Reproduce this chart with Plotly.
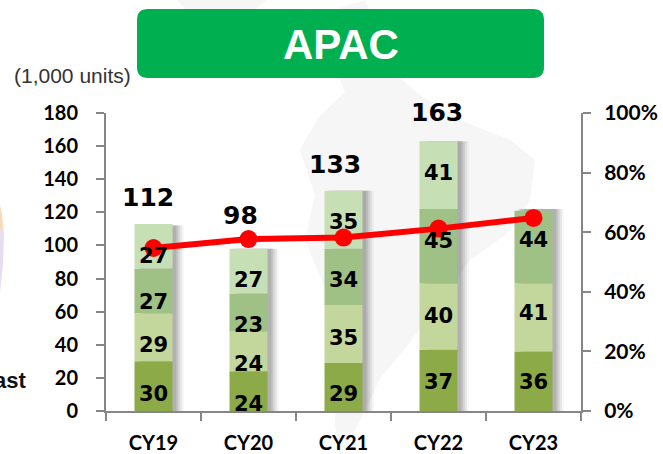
import plotly.graph_objects as go

categories = ["CY19", "CY20", "CY21", "CY22", "CY23"]
seg1 = [30, 24, 29, 37, 36]
seg2 = [29, 24, 35, 40, 41]
seg3 = [27, 23, 34, 45, 44]
seg4 = [27, 27, 35, 41, 0]
totals = [112, 98, 133, 163, 122]
total_labels = ["112", "98", "133", "163", ""]
share_pct = [54.7, 57.7, 58.2, 61.2, 64.8]
left_ticks = [0, 20, 40, 60, 80, 100, 120, 140, 160, 180]
right_ticks = [0, 20, 40, 60, 80, 100]
right_labels = ["0%", "20%", "40%", "60%", "80%", "100%"]
seg_colors = ["#8CAB48", "#C3D69B", "#9FC185", "#C6DFB4"]
label_shift = [[-8, -8, -11, -10], [-13, -13, -13, -9], [-7, -4, -3, -2], [-2, 1, 5, 2], [-1, 4, 7, 0]]
total_shift = [12, 17, 10, 12, 0]
total_xshift = [-6, -8, -9, -2, 0]

W, H = 663, 454
L, R, T, B = 106, 581, 113, 411
px = lambda x: (x - L) / (R - L)
py = lambda y: (B - y) / (B - T)

fig = go.Figure()

# bar shadow
for off, op in [(0.12, 0.06), (0.10, 0.10), (0.08, 0.14), (0.06, 0.18), (0.04, 0.22)]:
    fig.add_trace(go.Bar(x=categories, y=totals, width=0.4, offset=-0.2 + off,
                         marker=dict(color=f"rgba(110,110,110,{op})", line_width=0),
                         hoverinfo="skip", showlegend=False))

base = [0] * 5
segs = [seg1, seg2, seg3, seg4]
for s, c in zip(segs, seg_colors):
    fig.add_trace(go.Bar(x=categories, y=s, base=base, width=0.4, offset=-0.2,
                         marker=dict(color=c, line_width=0), showlegend=False))
    base = [a + b for a, b in zip(base, s)]

fig.add_trace(go.Scatter(x=categories, y=share_pct, yaxis="y2", mode="lines+markers",
                         line=dict(color="#FF0000", width=6),
                         marker=dict(color="#FF0000", size=18), showlegend=False))

annotations = []
base = [0] * 5
for si, s in enumerate(segs):
    for ci, v in enumerate(s):
        if v:
            annotations.append(dict(x=categories[ci], y=base[ci] + v / 2, xref="x", yref="y",
                                    text=str(v), showarrow=False, yshift=label_shift[ci][si],
                                    font=dict(family="DejaVu Sans", size=21, color="#000", weight="bold")))
    base = [a + b for a, b in zip(base, s)]
for c, t, lab, sh, xs in zip(categories, totals, total_labels, total_shift, total_xshift):
    if lab:
        annotations.append(dict(x=c, y=t, xref="x", yref="y", text=lab, showarrow=False, yanchor="bottom",
                                yshift=sh, xshift=xs,
                                font=dict(family="DejaVu Sans", size=25, color="#000", weight="bold")))

annotations += [
    dict(x=px(340.5), y=py(44), xref="paper", yref="paper", text="APAC", showarrow=False,
         xanchor="center", yanchor="middle",
         font=dict(family="Liberation Sans", size=42, color="#fff", weight="bold")),
    dict(x=px(133), y=py(75), xref="paper", yref="paper", text="(1,000 units)", showarrow=False,
         xanchor="right", yanchor="middle", font=dict(family="Liberation Sans", size=21, color="#333")),
    dict(x=px(28), y=py(380), xref="paper", yref="paper", text="ast", showarrow=False,
         xanchor="right", yanchor="middle", font=dict(family="Liberation Sans", size=22, color="#111", weight="bold")),
]


def rrect(x0, y0, x1, y1, r):
    return (f"M{px(x0+r)},{py(y0)} L{px(x1-r)},{py(y0)} Q{px(x1)},{py(y0)} {px(x1)},{py(y0+r)} "
            f"L{px(x1)},{py(y1-r)} Q{px(x1)},{py(y1)} {px(x1-r)},{py(y1)} L{px(x0+r)},{py(y1)} "
            f"Q{px(x0)},{py(y1)} {px(x0)},{py(y1-r)} L{px(x0)},{py(y0+r)} Q{px(x0)},{py(y0)} {px(x0+r)},{py(y0)} Z")


def poly(pts):
    return "M" + " L".join(f"{px(x)},{py(y)}" for x, y in pts) + " Z"


map_pts = [(300, 150), (318, 118), (345, 92), (332, 60), (340, 8), (365, 0), (400, 78), (420, 95), (465, 122),
           (510, 140), (535, 160), (530, 200), (505, 235), (470, 260), (440, 300), (408, 345), (381, 377), (355, 430),
           (340, 454), (335, 425), (335, 340), (330, 300), (305, 240), (315, 195)]
shapes = [
    dict(type="path", path=poly(map_pts), xref="paper", yref="paper", fillcolor="#F6F6F6", line_width=0, layer="below"),
    dict(type="path", path=poly([(177, 0), (267, 0), (255, 9), (185, 9)]), xref="paper", yref="paper",
         fillcolor="#F6F6F6", line_width=0, layer="below"),
    dict(type="path", path=poly([(0, 227), (4, 235), (3, 265), (0, 292)]), xref="paper", yref="paper",
         fillcolor="#E6DDF0", line_width=0, layer="below"),
    dict(type="path", path=poly([(0, 205), (2, 215), (4, 235), (0, 227)]), xref="paper", yref="paper",
         fillcolor="#FAD8B8", line_width=0, layer="below"),
    dict(type="path", path=rrect(137, 9, 544, 78, 11), xref="paper", yref="paper", fillcolor="#00B050", line_width=0),
]

axis_line = dict(showline=True, linecolor="#868686", linewidth=2, ticks="outside", tickcolor="#868686",
                 tickwidth=2, ticklen=8, showgrid=False, zeroline=False)
fig.update_layout(
    width=W, height=H, margin=dict(l=L, r=W - R, t=T, b=H - B, autoexpand=False),
    paper_bgcolor="#fff", plot_bgcolor="rgba(0,0,0,0)", barmode="overlay", showlegend=False,
    xaxis=dict(type="category", tickson="boundaries", categoryorder="array", categoryarray=categories,
               ticklabelstandoff=13, tickfont=dict(family="Lato", size=20, color="#000", weight="bold"), **axis_line),
    yaxis=dict(range=[0, 180], tickvals=left_ticks, ticklabelstandoff=14,
               tickfont=dict(family="Lato", size=20, color="#000", weight="bold"), **axis_line),
    yaxis2=dict(range=[0, 100], overlaying="y", side="right", tickvals=right_ticks, ticktext=right_labels,
                ticklabelstandoff=9, tickfont=dict(family="Lato", size=21, color="#000", weight="bold"), **axis_line),
    annotations=annotations, shapes=shapes,
)
fig.write_html("out.html", post_script="document.body.style.margin='0';", config={"displayModeBar": False})
